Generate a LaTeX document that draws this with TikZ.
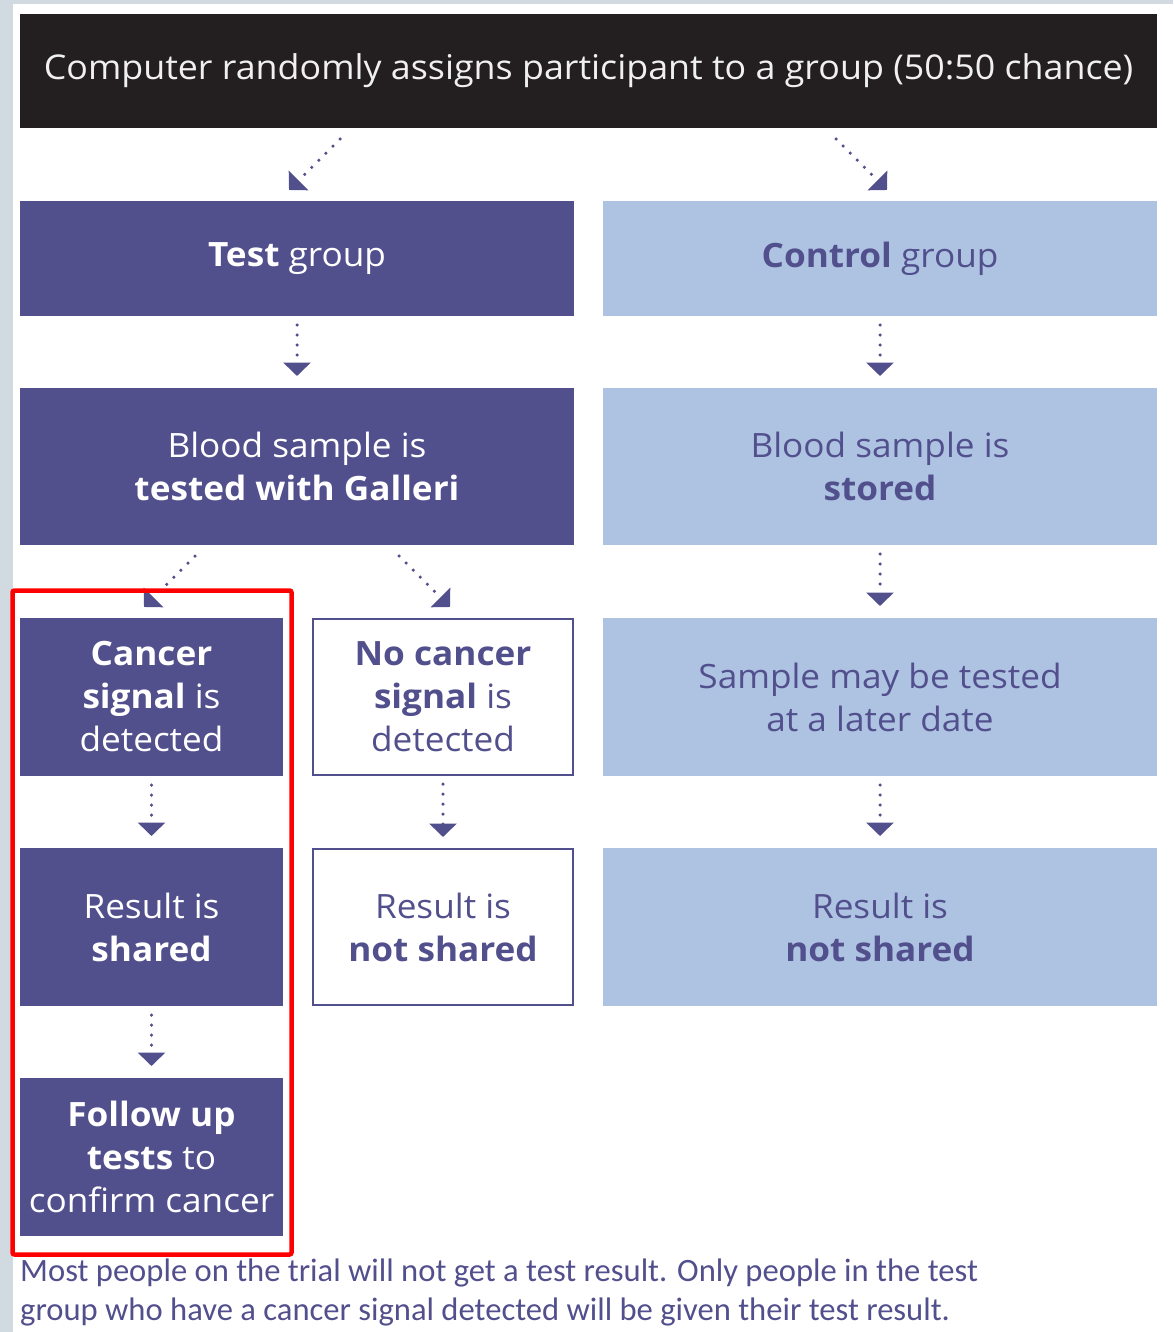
\documentclass[tikz,border=0pt]{standalone}
\usepackage{fontspec}
\setmainfont{Open Sans}[FakeStretch=1.05]
\newfontfamily\footfont{Carlito}
\usetikzlibrary{arrows.meta}
\definecolor{gpurple}{HTML}{524F8D}
\definecolor{glight}{HTML}{AEC3E2}
\definecolor{gblack}{HTML}{231F20}
\definecolor{gstrip}{HTML}{D1DAE1}
\definecolor{gred}{HTML}{FF0000}
\begin{document}
\begin{tikzpicture}[x=1pt,y=-1pt,
  box/.style={rectangle, inner sep=0pt, outer sep=0pt, align=center,
    font=\fontsize{33.5}{43}\selectfont},
  dark/.style={box, fill=gpurple, text=white},
  light/.style={box, fill=glight, text=gpurple},
  open/.style={box, fill=white, draw=gpurple, line width=2pt, text=gpurple},
  wide/.style={minimum width=554pt},
  tall/.style={minimum height=158pt},
  conn/.style={draw=gpurple, line width=3.5pt, line cap=round,
    dash pattern=on 0pt off 10pt,
    -{Triangle[width=27pt,length=13.5pt,fill=gpurple]}},
  vconn/.style={conn, shorten <=9pt, shorten >=12pt}
]
\useasboundingbox (0,0) rectangle (1173,1332);
\fill[gstrip] (0,0) rectangle (1173,4.5);
\fill[gstrip] (0,0) rectangle (12.5,1332);

\node[box, fill=gblack, text=white!94!black, minimum width=1137pt, minimum height=114pt,
  font=\fontsize{34.1}{40}\selectfont] (top) at (588.5,71)
  {\raisebox{-2pt}{Computer randomly assigns participant to a group (50:50 chance)}};

\node[dark, wide, minimum height=115pt] (test) at (297,258.5) {\textbf{Test} group};
\node[light, wide, minimum height=115pt] (control) at (880,258.5) {\textbf{Control} group};

\node[dark, wide, minimum height=157pt] (bloodT) at (297,466.5)
  {Blood sample is\\\textbf{tested with Galleri}};
\node[light, wide, minimum height=157pt] (bloodS) at (880,466.5)
  {Blood sample is\\\textbf{stored}};

\node[dark, minimum width=263pt, tall] (cancer) at (151.5,697)
  {\textbf{Cancer}\\\textbf{signal} is\\detected};
\node[open, minimum width=260pt, minimum height=156pt] (nocancer) at (443,697)
  {\textbf{No cancer}\\\textbf{signal} is\\detected};
\node[light, wide, tall] (sample) at (880,697)
  {Sample may be tested\\at a later date};

\node[dark, minimum width=263pt, tall] (shared) at (151.5,927)
  {Result is\\\textbf{shared}};
\node[open, minimum width=260pt, minimum height=156pt] (notsharedA) at (443,927)
  {Result is\\\textbf{not shared}};
\node[light, wide, tall] (notsharedB) at (880,927)
  {Result is\\\textbf{not shared}};

\node[dark, minimum width=263pt, tall] (follow) at (151.5,1157)
  {\textbf{Follow up}\\\textbf{tests} to\\confirm cancer};

% diagonal connectors
\coordinate (d1s) at (340,139);
\coordinate (d1e) at (289,190);
\coordinate (d2s) at (836,139);
\coordinate (d2e) at (887,190);
\coordinate (d3s) at (195,556);
\coordinate (d3e) at (144,607);
\coordinate (d4s) at (399,556);
\coordinate (d4e) at (450,607);
\draw[conn] (d1s) -- (d1e);
\draw[conn] (d2s) -- (d2e);
\draw[conn] (d3s) -- (d3e);
\draw[conn] (d4s) -- (d4e);

% vertical connectors
\draw[vconn] (test.south) -- (bloodT.north);
\draw[vconn] (control.south) -- (bloodS.north);
\draw[vconn] (bloodS.south) -- (sample.north);
\draw[vconn] (cancer.south) -- (shared.north);
\draw[vconn] (nocancer.south) -- (notsharedA.north);
\draw[vconn] (sample.south) -- (notsharedB.north);
\draw[vconn] (shared.south) -- (follow.north);

% highlight frame
\draw[gred, line width=4.5pt, rounded corners=2pt] (12.5,590.5) rectangle (291.5,1254.5);

\node[anchor=base west, align=left, inner sep=0pt, text=gpurple,
  font=\footfont\fontsize{32.6}{39}\selectfont] (foot) at (20,1320)
  {Most people on the trial will not get a test result. Only people in the test\\
   group who have a cancer signal detected will be given their test result.};
\end{tikzpicture}
\end{document}
